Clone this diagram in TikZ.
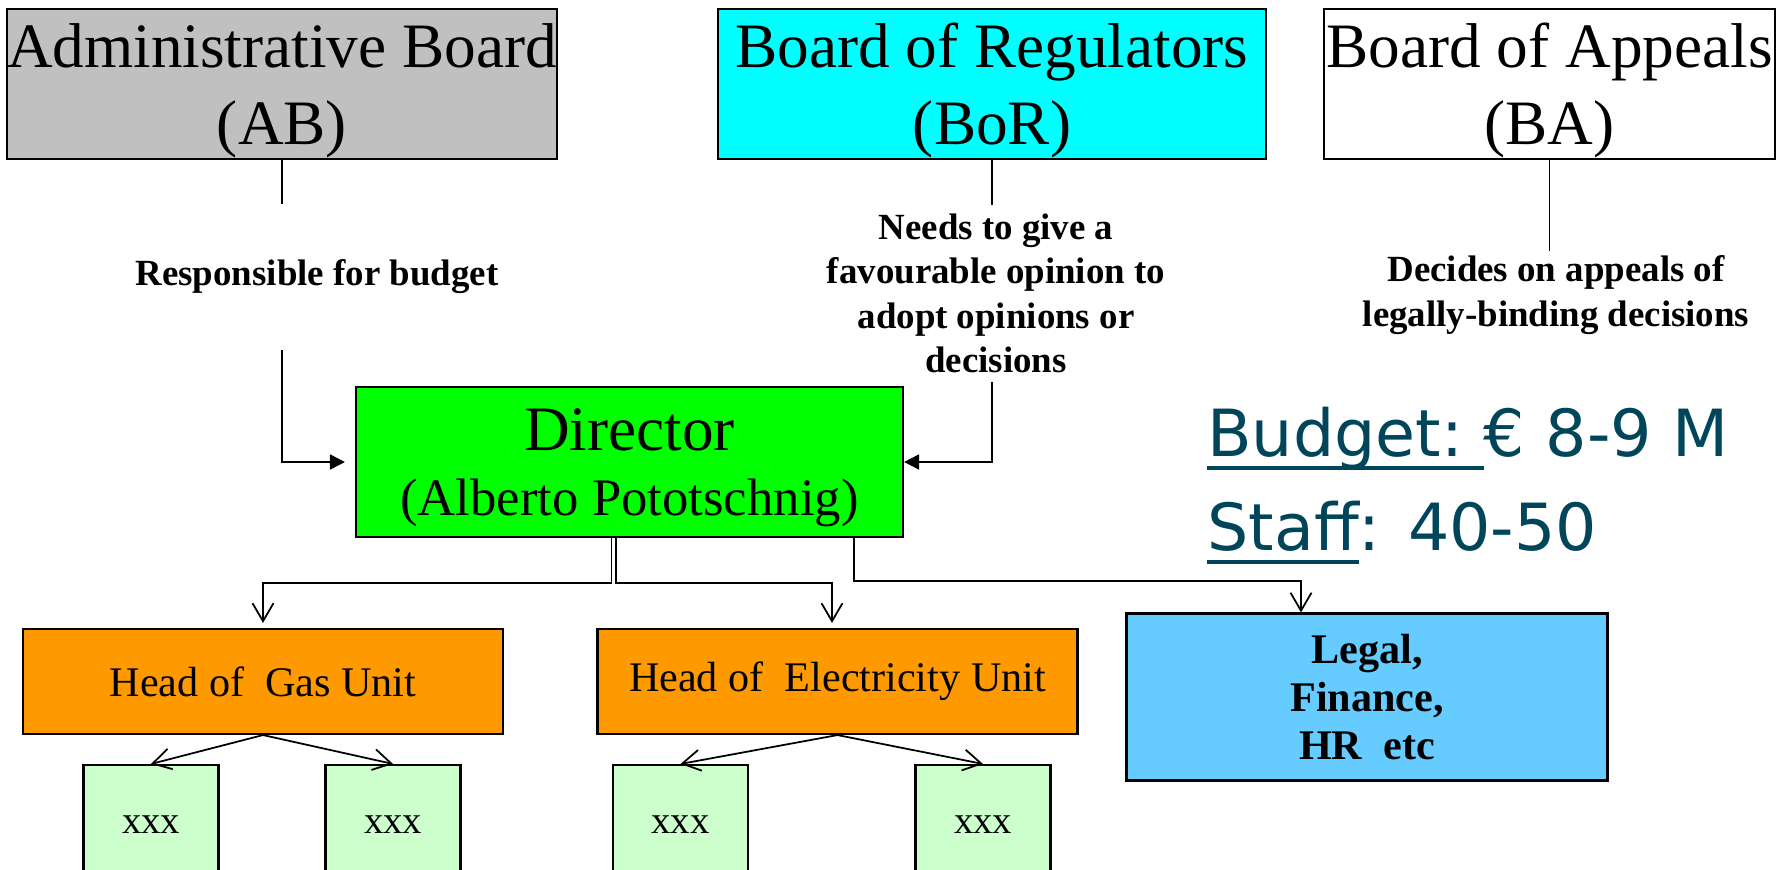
\documentclass[tikz,border=0pt]{standalone}
\usepackage{xcolor}
\usepackage{fontspec}
\setmainfont{Liberation Serif}
\newfontfamily\factsfont{DejaVu Sans}
\usepackage{tikz}
\usetikzlibrary{arrows.meta,positioning}

\definecolor{boardgrey}{HTML}{C0C0C0}
\definecolor{regcyan}{HTML}{00FFFF}
\definecolor{dirgreen}{HTML}{00FF00}
\definecolor{headorange}{HTML}{FF9900}
\definecolor{supportblue}{HTML}{66CCFF}
\definecolor{unitgreen}{HTML}{CCFFCC}
\definecolor{factsteal}{RGB}{0,69,89}

\newcommand\ulin[1]{\setbox0\hbox{#1}\rlap{\rule[-0.21em]{\wd0}{0.06em}}\box0}

\begin{document}
\begin{tikzpicture}[
    box/.style={draw, line width=1.2pt, inner sep=0pt, align=center},
    board/.style={box, minimum height=3cm, font=\fontsize{36}{43.8}\selectfont, text depth=0pt},
    head/.style={box, fill=headorange, minimum width=9.6cm, minimum height=2.1cm, font=\fontsize{24}{28}\selectfont},
    unit/.style={box, fill=unitgreen, minimum width=2.7cm, minimum height=2.4cm, font=\fontsize{22}{26}\selectfont},
    note/.style={inner sep=0pt, align=center, font=\bfseries\fontsize{21}{25.3}\selectfont},
    facts/.style={inner sep=0pt, anchor=base west, text=factsteal, font=\factsfont\fontsize{37}{44}\selectfont},
    wire/.style={line width=1pt},
    link/.style={wire, -{Triangle[length=0.3cm,width=0.3cm]}},
    sub/.style={wire, -{Straight Barb[length=0.36cm,width=0.42cm]}}
]
    \useasboundingbox (0,0) rectangle (35.54,-17.38);

    % === BOARDS ===
    \node[board, fill=boardgrey, minimum width=10.96cm] (ab) at (5.64,-1.68) {Administrative Board\\(AB)};
    \node[board, fill=regcyan, minimum width=10.96cm] (bor) at (19.84,-1.68) {Board of Regulators\\(BoR)};
    \node[board, fill=white, minimum width=9.02cm] (ba) at (30.99,-1.68) {Board of Appeals\\(BA)};

    % === NOTES ===
    \node[note, minimum height=2.92cm] (abnote) at (6.34,-5.54) {Responsible for budget};
    \node[note, minimum height=3.54cm] (bornote) at (19.92,-5.87) {Needs to give a\\favourable opinion to\\adopt opinions or\\decisions};
    \node[note, minimum height=1.76cm] (banote) at (31.12,-5.9) {Decides on appeals of\\legally-binding decisions};

    % === DIRECTOR ===
    \node[box, fill=dirgreen, minimum width=10.94cm, minimum height=3cm, text depth=0pt,
          font=\fontsize{36}{37}\selectfont] (dir) at (12.59,-9.24)
          {Director\\{\fontsize{30}{37}\selectfont (Alberto Pototschnig)}};

    % === UNITS ===
    \node[head] (gas) at (5.26,-13.63) {Head of\ \ Gas Unit};
    \node[head] (elec) at (16.75,-13.63) {Head of\ \ Electricity Unit};
    \node[box, fill=supportblue, minimum width=9.62cm, minimum height=3.34cm,
          font=\bfseries\fontsize{24}{27.5}\selectfont] (legal) at (27.34,-13.94) {Legal,\\Finance,\\HR\ \ etc};

    \node[unit] (x1) at (3.02,-16.5) {xxx};
    \node[unit] (x2) at (7.86,-16.5) {xxx};
    \node[unit] (x3) at (13.61,-16.5) {xxx};
    \node[unit] (x4) at (19.66,-16.5) {xxx};

    % === FACTS ===
    \node[facts] (budget) at (24.14,-9.12) {\ulin{Budget:\ }€ 8-9 M};
    \node[facts] (staff) at (24.14,-11.0) {\ulin{Staff}: 40-50};

    % === RELATIONSHIPS ===
    \draw[wire] (ab.south) -- (ab.south |- abnote.north);
    \draw[link, shorten >=0.2cm] (ab.south |- abnote.south) |- (dir.west);
    \draw[wire] (bor.south) -- (bor.south |- bornote.north);
    \draw[link] (bor.south |- bornote.south) |- (dir.east);
    \draw[wire] (ba.south) -- (ba.south |- banote.north);

    \draw[sub] ([xshift=-0.36cm]dir.south) -- ++(0,-0.9) -| ([yshift=0.1cm]gas.north);
    \draw[sub] ([xshift=-0.27cm]dir.south) -- ++(0,-0.9) -| ([xshift=-0.11cm,yshift=0.1cm]elec.north);
    \draw[sub] ([xshift=4.49cm]dir.south) -- ++(0,-0.86) -| ([xshift=-1.32cm]legal.north);

    \draw[sub] (gas.south) -- (x1.north);
    \draw[sub] (gas.south) -- (x2.north);
    \draw[sub] (elec.south) -- (x3.north);
    \draw[sub] (elec.south) -- (x4.north);

\end{tikzpicture}
\end{document}
